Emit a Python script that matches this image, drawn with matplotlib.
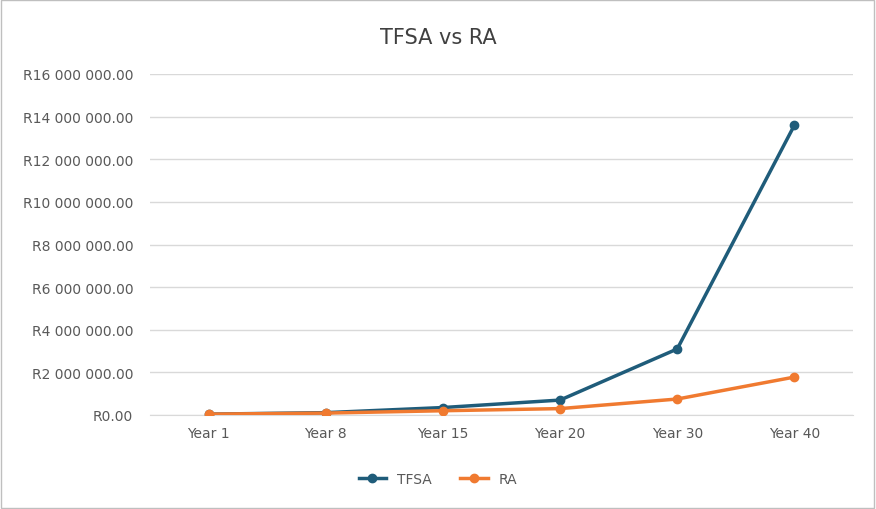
import matplotlib.pyplot as plt
from matplotlib.ticker import FuncFormatter

categories = ["Year 1", "Year 8", "Year 15", "Year 20", "Year 30", "Year 40"]
tfsa = [40000, 110000, 350000, 700000, 3100000, 13600000]
ra = [40000, 90000, 200000, 300000, 750000, 1780000]

fig = plt.figure(figsize=(8.76, 5.10), dpi=100)
ax = fig.add_axes([150/876, 1-416/510, 703/876, 341/510])
x = range(len(categories))
ax.plot(x, tfsa, color="#1f5c7a", lw=2.5, marker="o", ms=6, label="TFSA", zorder=3)
ax.plot(x, ra, color="#f07a30", lw=2.5, marker="o", ms=6, label="RA", zorder=3)
ax.set_xlim(-0.5, 5.5)
ax.set_ylim(0, 16000000)
ax.set_yticks(range(0, 16000001, 2000000))
ax.yaxis.set_major_formatter(FuncFormatter(lambda v, p: "R" + f"{v:,.2f}".replace(",", " ")))
ax.set_xticks(list(x))
ax.set_xticklabels(categories)
ax.grid(axis="y", color="#d9d9d9", lw=1)
ax.set_axisbelow(True)
for s in ["top", "right", "left"]:
    ax.spines[s].set_visible(False)
ax.spines["bottom"].set_color("#d9d9d9")
ax.tick_params(length=0, colors="#595959", labelsize=10, pad=8)
ax.tick_params(axis="y", pad=12)
fig.suptitle("TFSA vs RA", y=0.945, fontsize=15, color="#404040")
fig.legend(loc="lower center", bbox_to_anchor=(0.5, 0.02), ncol=2, frameon=False,
           fontsize=10, labelcolor="#595959")
fig.patches.append(plt.Rectangle((0.001, 0.002), 0.997, 0.996, transform=fig.transFigure,
                                 fill=False, ec="#bfbfbf", lw=1))
fig.savefig("out.png", dpi=100)
